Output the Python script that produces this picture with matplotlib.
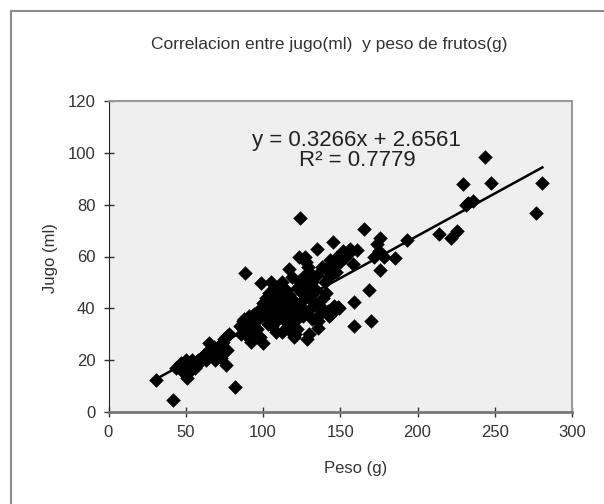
import numpy as np
import matplotlib
matplotlib.use("Agg")
from matplotlib import pyplot as plt
from matplotlib.patches import Rectangle

plt.rcParams['font.family'] = ['Liberation Sans', 'DejaVu Sans']

# peso de frutos (g) y jugo (ml)
peso = [31, 42, 81.6, 76, 51, 65, 88.6, 98.6, 100, 92, 128.5, 124, 135, 145.5, 165.5,
        176, 174, 176, 185.4, 193.4, 168.5, 169.7, 159, 159, 148.5, 213.9, 222, 225.4,
        229.6, 231.3, 236, 233, 243.8, 247.6, 277, 280.8, 156, 161, 158, 143.5, 123,
        127, 117, 135.5, 135.5, 121, 108.6, 172, 175, 178,
        44, 46, 47, 48, 50, 52, 53, 55, 57, 58, 60, 62, 64, 66, 67, 68, 70, 71, 72, 73,
        75, 76, 78, 54, 49, 56, 63, 69, 74, 77,
        85, 86, 87, 88, 89, 90, 91, 92, 93, 94, 95, 96, 97, 98, 99, 90, 87,
        100, 101, 102, 103, 104, 105, 106, 107, 108, 109, 110, 103, 105, 108, 110, 102, 106,
        111, 112, 113, 114, 115, 116, 117, 118, 119, 120, 121, 122, 123, 124, 125, 112,
        114, 118, 120, 116, 119, 113, 111, 122,
        126, 127, 128, 129, 130, 131, 132, 133, 134, 135, 136, 137, 138, 139, 140, 126,
        128, 132, 137, 130, 124, 129,
        141, 142, 143, 144, 145, 146, 147, 148, 149, 141, 143, 150, 152, 153, 155]
jugo = [12.5, 4.6, 9.5, 18, 13, 26.6, 53.5, 49.6, 26.6, 27, 28, 75, 63, 65.6, 70.6,
        67, 65, 54.8, 59.6, 66.3, 47, 35, 33, 42.6, 40.7, 68.8, 67, 70,
        88, 80, 81.4, 80.5, 98.5, 88.3, 76.9, 88.3, 63, 62.4, 57, 58.6, 60,
        60, 55, 35, 32.4, 30, 31, 60, 62, 60,
        17, 18, 19, 17, 20, 18, 16, 19, 18, 20, 21, 22, 23, 22, 24, 25, 24, 22, 26, 21,
        28, 29, 30, 20, 15, 17, 20, 20, 27, 24,
        33, 30, 35, 36, 31, 34, 37, 33, 30, 38, 35, 32, 36, 29, 40, 29, 32,
        42, 38, 44, 40, 46, 36, 43, 48, 41, 39, 45, 34, 50, 47, 36, 37, 33,
        44, 50, 42, 38, 47, 33, 45, 40, 52, 43, 35, 48, 38, 41, 46, 31,
        35, 31, 29, 42, 37, 48, 40, 32,
        52, 44, 48, 39, 54, 45, 50, 42, 47, 53, 40, 38, 56, 44, 50, 37,
        58, 36, 41, 30, 50, 56,
        55, 39, 52, 38, 57, 41, 54, 60, 40, 46, 37, 58, 62, 60, 61]

# linea de tendencia de la hoja de calculo
pendiente = 0.3266
intercepto = 2.6561
r2 = 0.7779

fig = plt.figure(figsize=(6.04, 5.04), dpi=100)
fig.patches.append(Rectangle((11 / 604, -0.02), 1.0, 1 - 11 / 504 + 0.02,
                             transform=fig.transFigure, fill=False,
                             edgecolor='#8c8c8c', lw=1.5))
ax = fig.add_axes([108.5 / 604, 1 - 412 / 504, 463.5 / 604, 311 / 504])
ax.set_facecolor('#efefef')

ax.scatter(peso, jugo, marker='D', s=55, c='black', linewidths=0, zorder=3)

x = np.array(peso)
xl = np.array([x.min(), x.max()])
ax.plot(xl, pendiente * xl + intercepto, color='black', lw=1.8, zorder=4)

ax.text(0.536, 0.842, "y = %.4fx + %.4f\nR² = %.4f" % (pendiente, intercepto, r2),
        transform=ax.transAxes, ha='center', va='center', fontsize=16,
        color='#222222', linespacing=0.95, zorder=5)

ax.set_xlim(0, 300)
ax.set_ylim(0, 120)
ax.set_xticks(range(0, 301, 50))
ax.set_yticks(range(0, 121, 20))
ax.tick_params(direction='inout', length=7, width=1, colors='#333333',
               labelsize=12, labelcolor='#333333', pad=6)

ax.spines['left'].set_color('#222222')
ax.spines['bottom'].set_color('#777777')
ax.spines['bottom'].set_linewidth(2)
ax.spines['top'].set_color('#9a9a9a')
ax.spines['top'].set_linewidth(1.5)
ax.spines['right'].set_color('#9a9a9a')
ax.spines['right'].set_linewidth(1.5)

ax.set_xlabel('Peso (g)', fontsize=12, color='#333333')
ax.set_ylabel('Jugo (ml)', fontsize=12, color='#333333')
ax.xaxis.set_label_coords(0.534, -0.157)
ax.yaxis.set_label_coords(-0.11, 0.495)
fig.text(329 / 604, 1 - 45 / 504, 'Correlacion entre jugo(ml)  y peso de frutos(g)',
         ha='center', va='center', fontsize=12.5, color='#333333')

fig.savefig('out.png', dpi=100)
